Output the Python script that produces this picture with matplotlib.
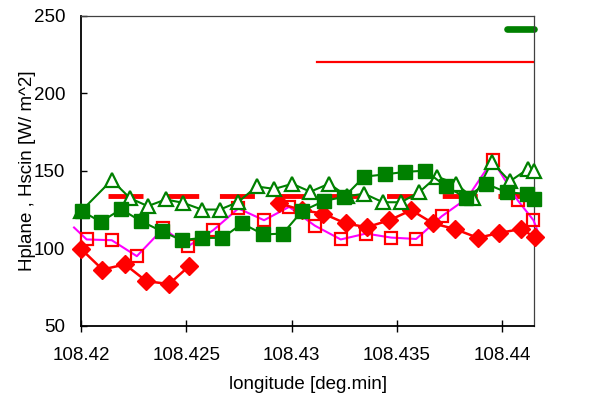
import numpy as np
import matplotlib
matplotlib.use("Agg")
import matplotlib.pyplot as plt
from matplotlib.ticker import FixedLocator, FuncFormatter

plt.rcParams["font.family"] = ["Liberation Sans", "DejaVu Sans"]

GREEN = "#008000"
RED = "#ff0000"
MAGENTA = "#ff00ff"

# Hscin (filled green squares)
lon_gsq = [108.42003, 108.42094, 108.42190, 108.42285, 108.42383, 108.42478,
           108.42573, 108.42671, 108.42766, 108.42866, 108.42958, 108.43049,
           108.43155, 108.43250, 108.43344, 108.43443, 108.43539, 108.43634,
           108.43731, 108.43826, 108.43923, 108.44021, 108.44118, 108.44150]
h_gsq = [124.2, 117.1, 125.3, 117.6, 111.1, 105.3, 106.8, 106.8, 116.1, 109.0,
         109.6, 124.0, 130.7, 133.3, 146.3, 147.8, 149.4, 150.2, 140.2, 132.8,
         141.7, 136.2, 135.2, 131.8]

# open green triangles
lon_tri = [108.42000, 108.42146, 108.42233, 108.42317, 108.42402, 108.42486,
           108.42573, 108.42660, 108.42747, 108.42834, 108.42918, 108.43003,
           108.43089, 108.43178, 108.43262, 108.43345, 108.43433, 108.43519,
           108.43605, 108.43689, 108.43781, 108.43863, 108.43950, 108.44036,
           108.44121, 108.44151]
h_tri = [124.0, 144.1, 132.4, 127.3, 131.6, 129.4, 125.1, 125.1, 130.0, 140.0,
         138.4, 141.7, 136.6, 141.8, 133.7, 135.3, 129.8, 129.8, 136.2, 146.4,
         141.6, 132.4, 155.7, 143.3, 151.2, 150.2]

# red diamonds (gap between the two runs)
lon_dia = [108.42000, 108.42102, 108.42209, 108.42310, 108.42418, 108.42515,
           np.nan,
           108.42940, 108.43048, 108.43150, 108.43257, 108.43357, 108.43464,
           108.43568, 108.43673, 108.43776, 108.43884, 108.43986, 108.44091,
           108.44153]
h_dia = [99.7, 86.4, 89.7, 78.9, 77.0, 88.8,
         np.nan,
         129.2, 124.7, 122.5, 116.1, 113.7, 118.2, 124.7, 116.1, 112.5, 106.8,
         110.0, 112.6, 107.2]

# Hplane (open red squares, magenta line)
lon_rsq = [108.42027, 108.42146, 108.42265, 108.42391, 108.42508, 108.42628,
           108.42747, 108.42869, 108.42988, 108.43110, 108.43233, 108.43353,
           108.43472, 108.43591, 108.43713, 108.43833, 108.43954, 108.44073,
           108.44148]
h_rsq = [105.8, 105.3, 95.0, 112.9, 101.4, 111.8, 125.8, 118.2, 126.8, 114.7,
         105.8, 109.6, 107.0, 106.1, 120.8, 132.4, 157.0, 131.1, 118.2]
lon_mag = [108.41967] + lon_rsq + [108.44179]
h_mag = [113.5] + h_rsq + [107.2]

# horizontal reference levels
dash_lon = [108.42130, 108.44152]
dash_h = 133.9
thin_lon = [108.43122, 108.44152]
thin_h = 220.3
bar_lon = [108.44021, 108.44152]
bar_h = 241.4

fig = plt.figure(figsize=(6, 3.96), dpi=100)
ax = fig.add_axes([0.135, 0.177, 0.7555, 0.7826])

ax.plot(dash_lon, [dash_h, dash_h], color=RED, lw=3.5, dashes=(7.2, 4.26),
        solid_capstyle="butt", dash_capstyle="butt", zorder=2)
ax.plot(thin_lon, [thin_h, thin_h], color=RED, lw=1.6, zorder=2)
ax.plot(bar_lon, [bar_h, bar_h], color=GREEN, lw=4.8,
        solid_capstyle="round", clip_on=False, zorder=2)

ax.plot(lon_mag, h_mag, color=MAGENTA, lw=1.5, clip_on=False, zorder=3)
ax.plot(lon_rsq, h_rsq, ls="none", marker="s", ms=9, mfc="none", mec=RED,
        mew=1.6, clip_on=False, zorder=4)
ax.plot(lon_dia, h_dia, color=RED, lw=1.8, marker="D", ms=9, mfc=RED,
        mec=RED, clip_on=False, zorder=5)
ax.plot(lon_tri, h_tri, color=GREEN, lw=1.5, marker="^", ms=10, mfc="white",
        mec=GREEN, mew=1.6, clip_on=False, zorder=6)
ax.plot(lon_gsq, h_gsq, color=GREEN, lw=1.5, marker="s", ms=10.5, mfc=GREEN,
        mec=GREEN, clip_on=False, zorder=7)

ax.set_xlim(108.42, 108.44152)
ax.set_ylim(50, 250)
ax.xaxis.set_major_locator(FixedLocator([108.42, 108.425, 108.43, 108.435, 108.44]))
ax.xaxis.set_major_formatter(FuncFormatter(lambda v, p: "%g" % round(v, 3)))
ax.set_yticks([50, 100, 150, 200, 250])

for s in ["left", "bottom"]:
    ax.spines[s].set_color("black")
    ax.spines[s].set_linewidth(1.3)
for s in ["top", "right"]:
    ax.spines[s].set_color("#404040")
    ax.spines[s].set_linewidth(0.9)

ax.tick_params(axis="x", direction="inout", length=9, width=1, pad=10.5,
               labelsize=13.5, colors="black")
ax.tick_params(axis="y", direction="in", length=4.3, width=1, pad=11.5,
               labelsize=13.5, colors="black")

ax.set_xlabel("longitude [deg.min]", fontsize=13.5, labelpad=9)
ax.set_ylabel("Hplane , Hscin [W/ m^2]", fontsize=13.5)
ax.yaxis.set_label_coords(-0.099, 0.5)

fig.savefig("out.png", dpi=100)
